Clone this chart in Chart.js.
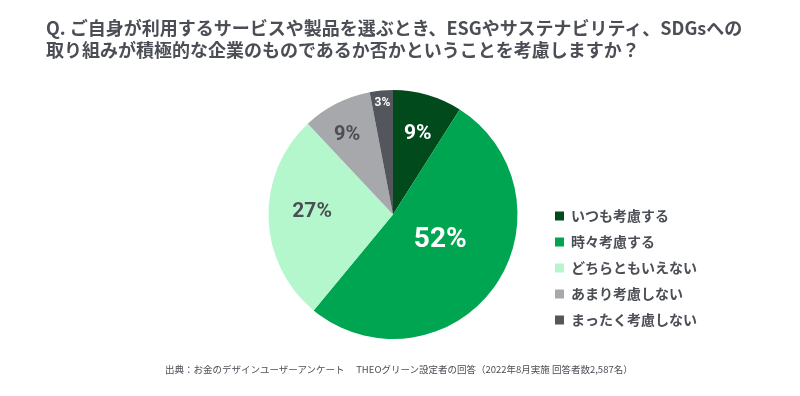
<!DOCTYPE html>
<html lang="ja">
<head>
<meta charset="utf-8">
<script src="https://cdn.jsdelivr.net/npm/chart.js@4.4.0/dist/chart.umd.min.js"></script>
<style>
  html, body { margin: 0; padding: 0; background: #fff; }
  #wrap { position: relative; width: 800px; height: 396px; }
  #box { position: absolute; left: 0; top: 0; width: 800px; height: 396px; }
  .title {
    position: absolute; left: 46px; top: 16px;
    font: bold 18px/22px "Noto Sans CJK JP", sans-serif;
    color: #4b4e55; white-space: nowrap;
  }
  .source {
    position: absolute; left: 165px; top: 362px;
    font: 9.5px/14px "Noto Sans CJK JP", sans-serif;
    color: #4b4e55; white-space: pre;
  }
</style>
</head>
<body>
<div id="wrap">
  <div id="box"><canvas id="pie"></canvas></div>
  <div class="title">Q. ご自身が利用するサービスや製品を選ぶとき、ESGやサステナビリティ、SDGsへの<br>取り組みが積極的な企業のものであるか否かということを考慮しますか？</div>
  <div class="source">出典：お金のデザインユーザーアンケート　 THEOグリーン設定者の回答（2022年8月実施 回答者数2,587名）</div>
</div>
<script>
const answers = ["いつも考慮する", "時々考慮する", "どちらともいえない", "あまり考慮しない", "まったく考慮しない"];
const shares = [9, 52, 27, 9, 3];

const sliceColors = ["#004a1c", "#00a551", "#b4f7cc", "#a6a8ab", "#53565d"];
const labelColors = ["#ffffff", "#ffffff", "#4b4e55", "#4b4e55", "#ffffff"];
const labelSize = [21, 28, 21, 20, 12];
const labelRadius = [0.675, 0.43, 0.65, 0.735, 0.9];
const labelShift = [1, -8, 4, -3, 0]; // degrees, clockwise

const sliceLabels = {
  id: "sliceLabels",
  afterDatasetsDraw: (chart) => {
    const { ctx } = chart;
    const meta = chart.getDatasetMeta(0);
    ctx.save();
    ctx.textAlign = "center";
    ctx.textBaseline = "middle";
    meta.data.forEach((arc, i) => {
      const { x, y, startAngle, endAngle, outerRadius } = arc.getProps(
        ["x", "y", "startAngle", "endAngle", "outerRadius"], true);
      const mid = (startAngle + endAngle) / 2 + (labelShift[i] * Math.PI) / 180;
      const r = outerRadius * labelRadius[i];
      ctx.font = `bold ${labelSize[i]}px Roboto`;
      ctx.fillStyle = labelColors[i];
      ctx.fillText(`${shares[i]}%`, x + Math.cos(mid) * r, y + Math.sin(mid) * r);
    });
    ctx.restore();
  },
};

new Chart(document.getElementById("pie"), {
  type: "pie",
  data: {
    labels: answers,
    datasets: [
      {
        data: shares,
        backgroundColor: sliceColors,
        borderWidth: 0,
      },
    ],
  },
  options: {
    responsive: true,
    maintainAspectRatio: false,
    animation: false,
    layout: {
      padding: { left: 243, right: 93, top: 90, bottom: 57 },
    },
    plugins: {
      tooltip: { enabled: false },
      legend: {
        position: "right",
        align: "end",
        labels: {
          boxWidth: 9,
          boxHeight: 9,
          padding: 12,
          color: "#4b4e55",
          font: { family: "'Noto Sans CJK JP'", size: 14, weight: "bold" },
        },
      },
    },
  },
  plugins: [sliceLabels],
});
</script>
</body>
</html>
